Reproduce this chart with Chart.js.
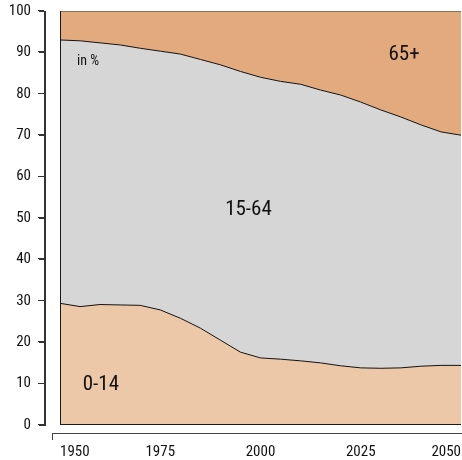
<!DOCTYPE html>
<html>
<head>
<meta charset="utf-8">
<script src="https://cdn.jsdelivr.net/npm/chart.js@4"></script>
<style>
  html, body { margin: 0; padding: 0; background: #fff; }
  #wrap { width: 462px; height: 460px; }
</style>
</head>
<body>
<div id="wrap"><canvas id="ageChart"></canvas></div>
<script>
// population shares by age group, in %
const years = [1950, 1955, 1960, 1965, 1970, 1975, 1980, 1985, 1990, 1995, 2000,
               2005, 2010, 2015, 2020, 2025, 2030, 2035, 2040, 2045, 2050];
const share014 = [29.4, 28.6, 29.1, 29.0, 28.9, 27.8, 25.8, 23.4, 20.5, 17.6, 16.2,
                  15.9, 15.5, 15.0, 14.3, 13.8, 13.7, 13.8, 14.2, 14.4, 14.4];
const share1564 = [63.6, 64.2, 63.2, 62.8, 62.1, 62.5, 63.8, 64.9, 66.5, 67.8, 67.8,
                   67.1, 66.8, 65.9, 65.4, 64.2, 62.4, 60.6, 58.3, 56.4, 55.6];
const share65 = [7.0, 7.2, 7.7, 8.2, 9.0, 9.7, 10.4, 11.7, 13.0, 14.6, 16.0,
                 17.0, 17.7, 19.1, 20.3, 22.0, 23.9, 25.6, 27.5, 29.2, 30.0];
const groupNames = ['0-14', '15-64', '65+'];
const xTickValues = [1950, 1975, 2000, 2025, 2050];
const yTickValues = [0, 10, 20, 30, 40, 50, 60, 70, 80, 90, 100];
const unitLabel = 'in %';

const FONT = "'Roboto Condensed', sans-serif";

const toPoints = arr => years.map((yr, i) => ({ x: yr, y: arr[i] }));

// labels inside the areas, placed in data coordinates
const areaText = [
    { text: groupNames[0], x: 1960.2, y: 9.7, size: 21 },
    { text: groupNames[1], x: 1997, y: 51.9, size: 21 },
    { text: groupNames[2], x: 2035.8, y: 89.4, size: 21 },
    { text: unitLabel, x: 1957, y: 87.9, size: 14 }
];

const axesPlugin = {
    id: 'axesPlugin',
    afterDraw(chart) {
        const { ctx, scales: { x, y } } = chart;
        const left = Math.round(x.getPixelForValue(years[0]));
        const right = Math.round(x.getPixelForValue(years[years.length - 1]));
        const top = Math.round(y.getPixelForValue(100));
        const bottom = Math.round(y.getPixelForValue(0));

        ctx.save();
        ctx.setTransform(1, 0, 0, 1, 0, 0);
        ctx.globalAlpha = 1;
        ctx.globalCompositeOperation = 'source-over';

        // detached y axis with outward ticks, as 1px rectangles
        ctx.fillStyle = '#333';
        ctx.fillRect(left - 16, top, 1, bottom - top + 1);
        yTickValues.forEach(v => {
            const py = Math.round(y.getPixelForValue(v));
            ctx.fillRect(left - 22, py - 1, 6, 1);
        });

        // detached x axis, starting a little left of the plot
        ctx.fillStyle = '#444';
        ctx.fillRect(left - 8, bottom + 8, chart.width - left + 8, 1);
        ctx.fillRect(left - 8, bottom + 8, 1, 7);

        // plot frame, left and bottom
        ctx.fillStyle = '#1a1a1a';
        ctx.fillRect(left, top, 1, bottom - top);
        ctx.fillRect(left, bottom - 1, right - left, 1);

        // area labels
        ctx.fillStyle = '#111';
        ctx.textAlign = 'center';
        ctx.textBaseline = 'middle';
        areaText.forEach(t => {
            ctx.font = t.size + 'px ' + FONT;
            ctx.fillText(t.text, x.getPixelForValue(t.x), y.getPixelForValue(t.y));
        });
        ctx.restore();
    }
};

new Chart(document.getElementById('ageChart'), {
    type: 'line',
    data: {
        datasets: [{
            label: groupNames[0],
            data: toPoints(share014),
            backgroundColor: '#ecc7a8',
            borderColor: '#111',
            borderWidth: 1,
            fill: 'origin'
        }, {
            label: groupNames[1],
            data: toPoints(share1564),
            backgroundColor: '#d6d6d6',
            borderColor: '#111',
            borderWidth: 1,
            fill: '-1'
        }, {
            label: groupNames[2],
            data: toPoints(share65),
            backgroundColor: '#e3aa7e',
            borderColor: '#333',
            borderWidth: 1,
            fill: '-1'
        }]
    },
    options: {
        responsive: true,
        maintainAspectRatio: false,
        animation: false,
        layout: { padding: { top: 11, right: 1, left: 0, bottom: 0 } },
        elements: { point: { radius: 0 }, line: { tension: 0 } },
        plugins: { legend: { display: false }, tooltip: { enabled: false } },
        scales: {
            x: {
                type: 'linear',
                // the y axis stands 15px left of the first year
                min: 1946.26,
                max: 2050,
                afterBuildTicks: scale => { scale.ticks = xTickValues.map(v => ({ value: v })); },
                afterFit: scale => { scale.height = 35; },
                grid: { display: false, drawTicks: true, tickLength: 18 },
                border: { display: false },
                ticks: {
                    align: 'inner',
                    padding: 0,
                    color: '#111',
                    font: { family: FONT, size: 15 },
                    callback: v => String(v)
                }
            },
            y: {
                stacked: true,
                min: 0,
                max: 100,
                afterBuildTicks: scale => { scale.ticks = yTickValues.map(v => ({ value: v })); },
                afterFit: scale => {
                    scale.width = 45;
                    scale.paddingTop = 0;
                    scale.paddingBottom = 0;
                },
                grid: { display: true, drawOnChartArea: false, drawTicks: true, tickLength: 6, color: '#333' },
                border: { display: true, color: '#333', width: 1 },
                ticks: {
                    padding: 8,
                    color: '#111',
                    font: { family: FONT, size: 15 }
                }
            }
        }
    },
    plugins: [axesPlugin]
});
</script>
</body>
</html>
